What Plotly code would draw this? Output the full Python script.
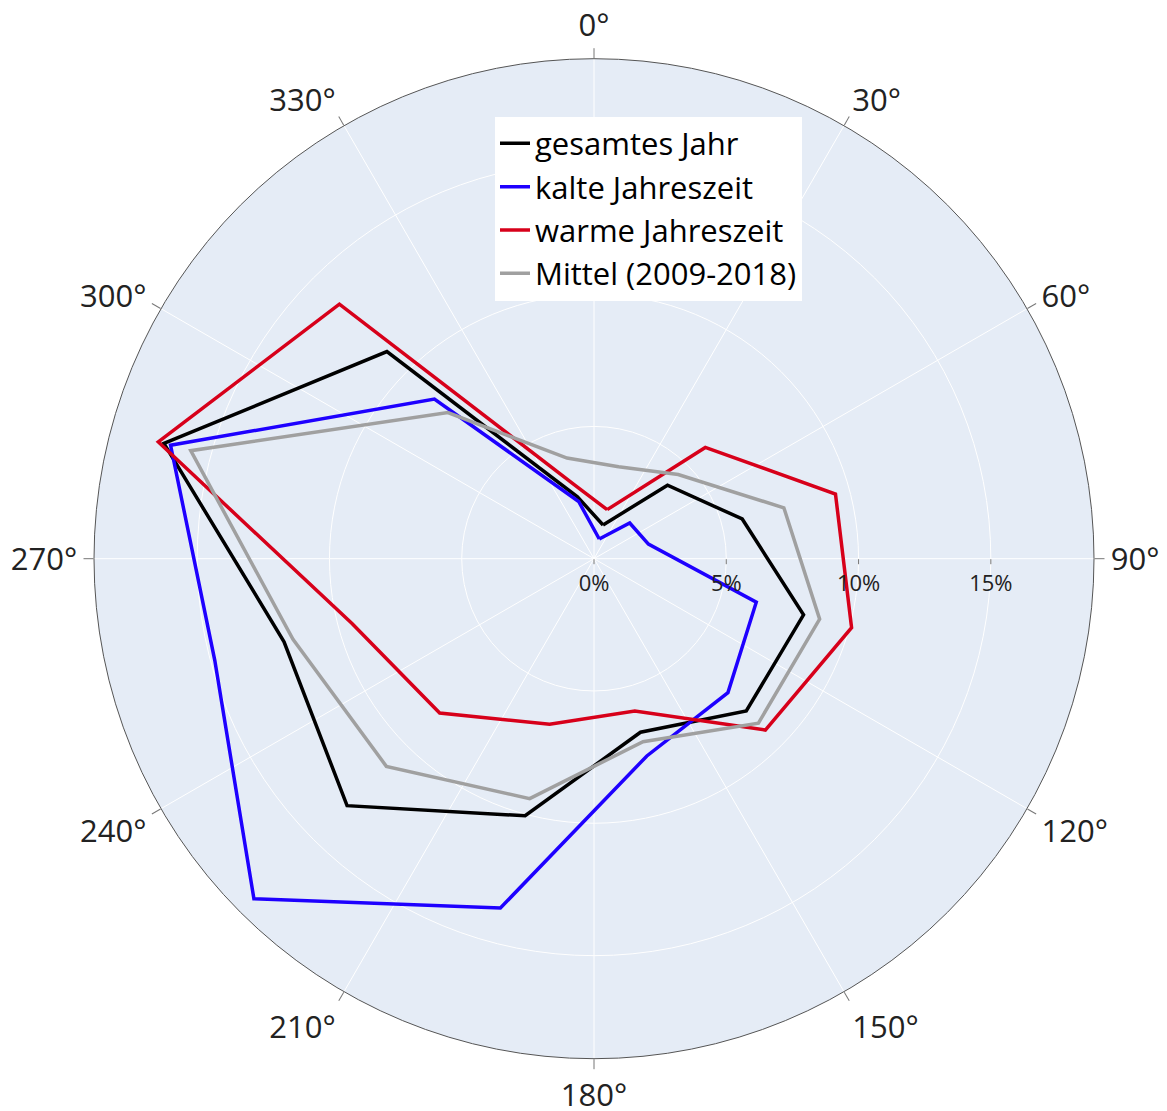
import plotly.graph_objects as go

directions = [15, 45, 75, 105, 135, 165, 195, 225, 255, 285, 315, 345]

gesamtes_jahr = [1.32, 3.93, 5.80, 8.20, 8.14, 6.79, 10.06, 13.20, 12.13, 16.83, 11.07, 2.42]
kalte_jahreszeit = [0.77, 1.91, 2.13, 6.35, 7.16, 7.72, 13.67, 18.18, 14.84, 16.57, 8.53, 2.24]
warme_jahreszeit = [1.92, 5.95, 9.45, 10.08, 9.16, 5.96, 6.48, 8.25, 9.47, 17.05, 13.61, 2.90]
mittel_2009_2018 = [3.60, 4.50, 7.43, 8.83, 8.79, 7.16, 9.39, 11.10, 11.78, 15.78, 7.81, 3.94]

radial_tickvals = [0, 5, 10, 15]
radial_ticktext = ["0%", "5%", "10%", "15%"]

series = [
    ("gesamtes Jahr", gesamtes_jahr, "#000000"),
    ("kalte Jahreszeit", kalte_jahreszeit, "#1e00ff"),
    ("warme Jahreszeit", warme_jahreszeit, "#d7001a"),
    ("Mittel (2009-2018)", mittel_2009_2018, "#a0a0a0"),
]

fig = go.Figure()
for name, vals, color in series:
    fig.add_trace(go.Scatterpolar(
        r=vals + vals[:1],
        theta=directions + directions[:1],
        mode="lines",
        name=name,
        line=dict(color=color, width=3.5),
    ))

W, H = 1167, 1111
off = 8  # page body offset
cx, cy, R = 594 - off, 558.7 - off, 500

fig.update_layout(
    width=W, height=H,
    margin=dict(l=0, r=0, t=0, b=0),
    paper_bgcolor="white",
    font=dict(family="Open Sans", color="#222"),
    polar=dict(
        domain=dict(x=[(cx - R) / W, (cx + R) / W], y=[(H - cy - R) / H, (H - cy + R) / H]),
        bgcolor="#E5ECF6",
        angularaxis=dict(
            rotation=90, direction="clockwise",
            dtick=30,
            gridcolor="white",
            showline=True, linecolor="#555", linewidth=1,
            ticks="outside", ticklen=10, tickcolor="#777",
            tickfont=dict(size=31, color="#222"),
        ),
        radialaxis=dict(
            range=[0, 18.9],
            tickmode="array",
            tickvals=radial_tickvals,
            ticktext=radial_ticktext,
            gridcolor="white",
            showline=False,
            ticks="outside", ticklen=5, tickcolor="#777",
            tickfont=dict(size=22, color="#222"),
            angle=0,
        ),
    ),
    legend=dict(
        x=(495 - off) / W, y=1 - (116.7 - off) / H, xanchor="left", yanchor="top",
        bgcolor="white",
        font=dict(size=31, color="black"),
    ),
)

fig.write_html("out.html")
